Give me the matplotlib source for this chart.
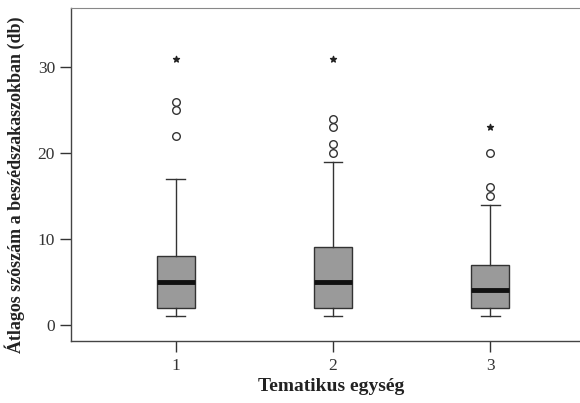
import matplotlib
matplotlib.use("Agg")
import matplotlib.pyplot as plt

categories = ["1", "2", "3"]
whislo = [1, 1, 1]
q1 = [2, 2, 2]
med = [5, 5, 4]
q3 = [8, 9, 7]
whishi = [17, 19, 14]
outliers_circle = [[22, 25, 26], [20, 21, 23, 24], [15, 16, 20]]
outliers_star = [[31], [31], [23]]
yticks = [0, 10, 20, 30]

plt.rcParams['font.family'] = ['Liberation Serif', 'DejaVu Serif']

fig = plt.figure(figsize=(5.8, 4.03), dpi=100)
ax = fig.add_axes([71/580, 62/403, 520/580, 333/403])

stats = []
for i, c in enumerate(categories):
    stats.append(dict(label=c, whislo=whislo[i], q1=q1[i], med=med[i],
                      q3=q3[i], whishi=whishi[i], fliers=[]))
pos = [1, 2, 3]
ax.bxp(stats, positions=pos, widths=0.24, patch_artist=True, showfliers=False,
       boxprops=dict(facecolor='#9a9a9a', edgecolor='#333333', linewidth=1.0),
       medianprops=dict(color='#111111', linewidth=3.5),
       whiskerprops=dict(color='#333333', linewidth=1.0),
       capprops=dict(color='#333333', linewidth=1.0),
       capwidths=0.12)

for i, p in enumerate(pos):
    ax.scatter([p]*len(outliers_circle[i]), outliers_circle[i], s=30,
               facecolors='white', edgecolors='#333333', linewidths=1.0, zorder=3)
    ax.scatter([p]*len(outliers_star[i]), outliers_star[i], s=20, marker='*',
               color='#222222', zorder=3)

ax.set_xlim(0.335, 3.64)
ax.set_ylim(-1.9, 36.9)
ax.set_xticks(pos)
ax.set_xticklabels(categories)
ax.set_yticks(yticks)
ax.tick_params(axis='both', direction='out', length=8, width=1.0,
               colors='#333333', labelsize=12.5, labelcolor='#333333')
ax.tick_params(axis='x', pad=4)
for s in ['left', 'bottom']:
    ax.spines[s].set_color('#444444')
    ax.spines[s].set_linewidth(1.0)
ax.spines['top'].set_color('#888888')
ax.spines['top'].set_linewidth(0.8)
ax.spines['right'].set_visible(False)

ax.set_xlabel("Tematikus egység", fontsize=14, fontweight='bold', color='#222222', labelpad=3)
ax.set_ylabel("Átlagos szószám a beszédszakaszokban (db)", fontsize=13,
              fontweight='bold', color='#222222')
ax.yaxis.set_label_coords(-0.088, 0.47)

fig.savefig("out.png", dpi=100)
